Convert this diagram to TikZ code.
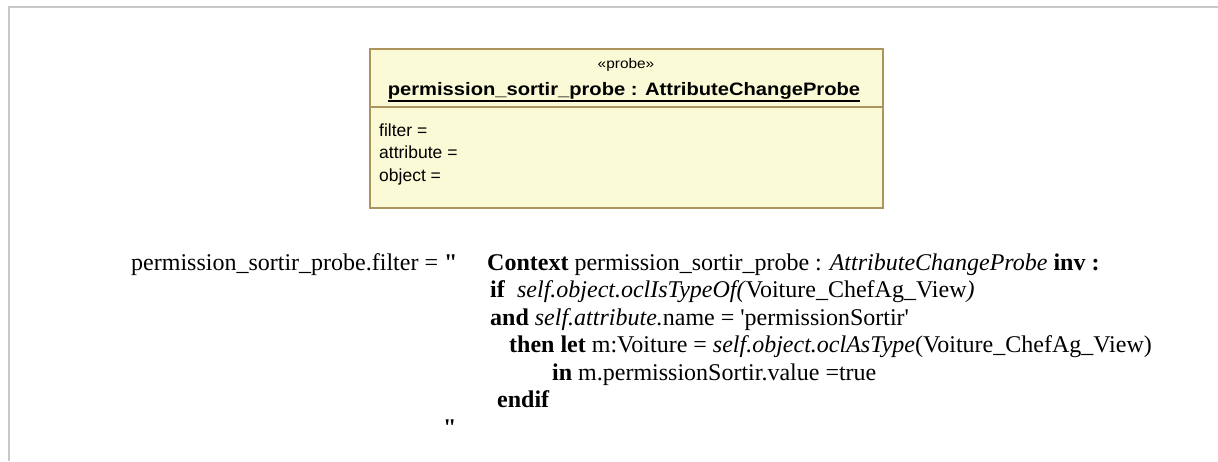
\documentclass[tikz,border=0pt]{standalone}
\usepackage{fontspec}
\setmainfont{Liberation Serif}[Ligatures=TeXOff]
\newfontfamily\boxfont{Liberation Sans}[Ligatures=TeXOff]
\usetikzlibrary{calc}
\definecolor{framegray}{RGB}{200,200,200}
\definecolor{boxfill}{RGB}{250,250,214}
\definecolor{boxborder}{RGB}{172,148,92}
\tikzset{
  ocl/.style={anchor=base west, inner sep=0pt, font=\fontsize{24}{27.5}\selectfont},
  attr/.style={anchor=base west, inner sep=0pt, font=\boxfont\fontsize{17.5}{22}\selectfont},
  stereo/.style={anchor=base, inner sep=0pt, font=\boxfont\fontsize{14}{16}\selectfont},
  titletext/.style={anchor=base, inner sep=0pt, font=\boxfont\bfseries\fontsize{18}{20}\selectfont},
  probebox/.style={draw=boxborder, fill=boxfill, line width=1.5pt}
}
\begin{document}
\begin{tikzpicture}[x=1pt,y=-1pt]
\useasboundingbox (0,0) rectangle (1218,461);
\fill[white] (0,0) rectangle (1218,461);
\draw[framegray, line width=2pt] (9,461) -- (9,7) -- (1218,7);
% probe object box
\draw[probebox] (370,49) rectangle (883,208);
\draw[boxborder, line width=1.5pt] (370,107) -- (883,107);
\node[stereo] (stereo) at (626,68) {\scalebox{1.1}[1]{«probe»}};
\node[titletext] (title) at (624,95) {\scalebox{1.12}[1]{permission\_sortir\_probe : AttributeChangeProbe}};
\draw[line width=1.3pt] ($(title.base west)+(0,6)$) -- ($(title.base east)+(0,6)$);
\node[attr] (a1) at (379,136) {filter =};
\node[attr] (a2) at (379,158.5) {attribute =};
\node[attr] (a3) at (379,181) {object =};
% OCL text
\node[ocl] (f0) at (131,270) {permission\_sortir\_probe.filter = \textbf{"}};
\node[ocl] (l0) at (487,270) {\textbf{Context} permission\_sortir\_probe : \textit{AttributeChangeProbe} \textbf{inv :}};
\node[ocl] (l1) at (490,297.5) {\textbf{if}\ \ \textit{self.object.oclIsTypeOf(}Voiture\_ChefAg\_View\textit{)}};
\node[ocl] (l2) at (490,325) {\textbf{and} \textit{self.attribute.}name = 'permissionSortir'};
\node[ocl] (l3) at (509,352.5) {\textbf{then let} m:Voiture = \textit{self.object.oclAsType}(Voiture\_ChefAg\_View)};
\node[ocl] (l4) at (552,380) {\textbf{in} m.permissionSortir.value =true};
\node[ocl] (l5) at (497,407.5) {\textbf{endif}};
\node[ocl] (l6) at (443,435) {\textbf{"}};
\end{tikzpicture}
\end{document}
